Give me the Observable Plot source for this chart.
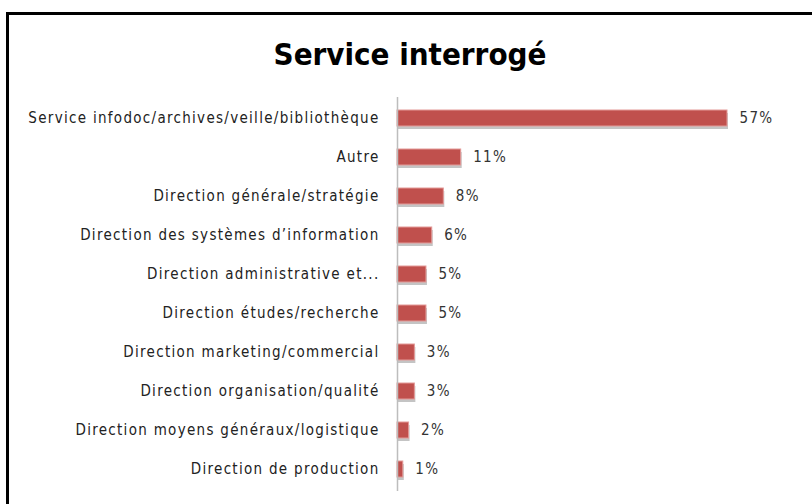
<!DOCTYPE html>
<html><head><meta charset="utf-8">
<script src="https://cdn.jsdelivr.net/npm/d3@7"></script>
<script src="https://cdn.jsdelivr.net/npm/@observablehq/plot@0.6"></script>
<style>
html,body{margin:0;padding:0;width:812px;height:504px;overflow:hidden;background:#fff}
#frame{position:absolute;left:6px;top:12px;width:900px;height:600px;border:3px solid #000;box-sizing:border-box}
#title{position:absolute;left:0;width:820px;top:36px;text-align:center;font:bold 31px "Liberation Sans Narrow","DejaVu Sans Condensed",sans-serif;color:#000}
#chart{position:absolute;left:0;top:0}
#chart svg text{letter-spacing:1.3px}
</style></head><body>
<div id="frame"></div>
<div id="chart"></div>
<div id="title">Service interrogé</div>
<script>
const categories = [
  "Service infodoc/archives/veille/bibliothèque",
  "Autre",
  "Direction générale/stratégie",
  "Direction des systèmes d’information",
  "Direction administrative et...",
  "Direction études/recherche",
  "Direction marketing/commercial",
  "Direction organisation/qualité",
  "Direction moyens généraux/logistique",
  "Direction de production"
];
const values = [57, 11, 8, 6, 5, 5, 3, 3, 2, 1];
const valueLabels = ["57%", "11%", "8%", "6%", "5%", "5%", "3%", "3%", "2%", "1%"];

const data = categories.map((c, i) => ({cat: c, v: values[i], lab: valueLabels[i]}));
const font = "'Liberation Sans Narrow','DejaVu Sans Condensed',sans-serif";

const chart = Plot.plot({
  width: 812,
  height: 504,
  marginLeft: 397,
  marginRight: 85,
  marginTop: 86,
  marginBottom: 3,
  style: {fontFamily: font, fontSize: "15px", color: "#222", background: "transparent"},
  x: {domain: [0, 57], axis: null},
  y: {domain: categories, padding: 0.6, label: null, tickSize: 0, tickPadding: 18},
  marks: [
    Plot.barX(data, {y: "cat", x: "v", fill: "#c4c4c4", dy: 3, dx: 1}),
    Plot.barX(data, {y: "cat", x: "v", fill: "#c0504d", stroke: "#e39a98", strokeWidth: 1}),
    Plot.ruleX([0], {stroke: "#bdbdbd", strokeWidth: 1.5, insetTop: 11, insetBottom: 10}),
    Plot.text(data, {y: "cat", x: "v", text: "lab", dx: 12, textAnchor: "start", fontSize: 15, fill: "#333"})
  ]
});
document.getElementById("chart").appendChild(chart);
</script>
</body></html>
